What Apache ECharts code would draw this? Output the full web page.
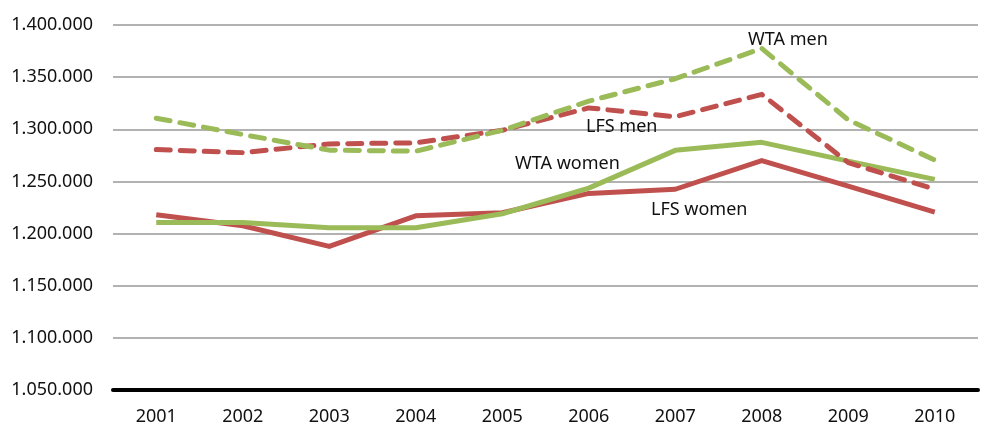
<!DOCTYPE html>
<html>
<head>
<meta charset="UTF-8">
<script src="https://cdn.jsdelivr.net/npm/echarts@6/dist/echarts.min.js"></script>
<style>
  body { margin: 0; padding: 0; background: #fff; }
  #echart { width: 986px; height: 426px; }
</style>
</head>
<body>
<div id="echart"></div>
<script>
const years = ['2001','2002','2003','2004','2005','2006','2007','2008','2009','2010'];
const wtaMen   = [1310600, 1295000, 1280000, 1279000, 1299000, 1327000, 1348500, 1377500, 1309000, 1270500];
const lfsMen   = [1280500, 1277600, 1286000, 1287000, 1299000, 1320500, 1312000, 1333500, 1268000, 1242500];
const wtaWomen = [1210700, 1210700, 1205500, 1205500, 1219000, 1243600, 1279800, 1287500, 1269500, 1252000];
const lfsWomen = [1218000, 1207500, 1187700, 1217000, 1220000, 1238500, 1242500, 1270000, 1245500, 1220500];

const green = '#9BBB59';
const red = '#C0504D';
const font = 'Noto Sans';

// thousands with dots, like 1.400.000
const fmt = v => String(v).replace(/\B(?=(\d{3})+(?!\d))/g, '.');

let ec = echarts.init(document.getElementById('echart'));

let lineSeries = (name, data, color, dashed) => ({
    name: name,
    type: 'line',
    data: data,
    symbol: 'none',
    lineStyle: {
        color: color,
        width: 5,
        type: dashed ? [14, 10] : 'solid',
        cap: dashed ? 'round' : 'butt',
        join: 'round'
    },
    z: dashed ? 3 : 2
});

let labelText = (text, x, y) => ({
    type: 'text',
    left: x,
    top: y,
    style: { text: text, font: '18px "' + font + '"', fill: '#111' },
    z: 10
});

ec.setOption({
    animation: false,
    textStyle: { fontFamily: font },
    grid: { left: 113, right: 8, top: 25, bottom: 36 },
    xAxis: {
        type: 'category',
        data: years,
        boundaryGap: true,
        axisLine: { lineStyle: { color: '#000', width: 4 } },
        axisTick: { show: false },
        axisLabel: { color: '#111', fontSize: 18, margin: 18 }
    },
    yAxis: {
        type: 'value',
        min: 1050000,
        max: 1400000,
        interval: 50000,
        axisLine: { show: false },
        axisTick: { show: false },
        splitLine: { lineStyle: { color: '#999', width: 1.5 } },
        axisLabel: { color: '#111', fontSize: 18, margin: 20, formatter: fmt }
    },
    series: [
        lineSeries('LFS women', lfsWomen, red, false),
        lineSeries('WTA women', wtaWomen, green, false),
        lineSeries('LFS men', lfsMen, red, true),
        lineSeries('WTA men', wtaMen, green, true)
    ],
    graphic: [
        labelText('WTA men', 748, 31),
        labelText('LFS men', 586, 118),
        labelText('WTA women', 515, 155),
        labelText('LFS women', 651, 201)
    ]
});
</script>
</body>
</html>
